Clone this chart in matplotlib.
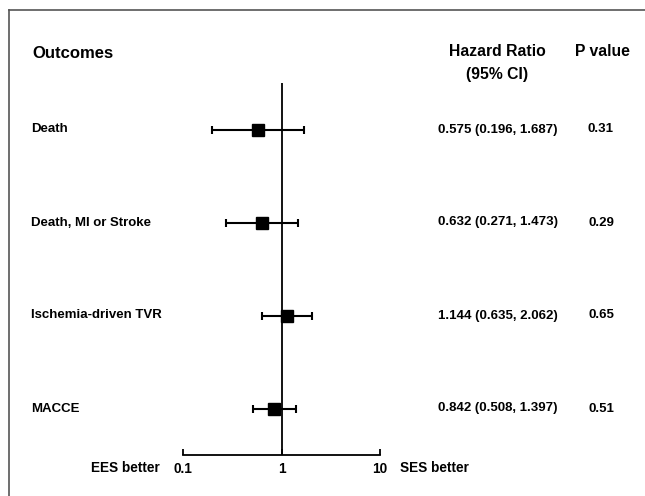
import matplotlib.pyplot as plt
from matplotlib.lines import Line2D
from matplotlib.transforms import blended_transform_factory

plt.rcParams["font.family"] = ["Liberation Sans", "DejaVu Sans"]
plt.rcParams["font.weight"] = "bold"

outcomes = ["Death", "Death, MI or Stroke", "Ischemia-driven TVR", "MACCE"]
hazard_ratio = [0.575, 0.632, 1.144, 0.842]
ci_low = [0.196, 0.271, 0.635, 0.508]
ci_high = [1.687, 1.473, 2.062, 1.397]
p_values = ["0.31", "0.29", "0.65", "0.51"]
xticks = [0.1, 1, 10]
xtick_labels = ["0.1", "1", "10"]

W, H = 645, 496
fig = plt.figure(figsize=(W / 100, H / 100), dpi=100)


def fx(px):
    return px / W


def fy(py):
    return 1 - py / H


# outer frame (only left and top edges are visible in the crop)
frame_color = "#555555"
fig.add_artist(Line2D([fx(9), fx(9)], [fy(10), 0], transform=fig.transFigure,
                      color=frame_color, lw=1.2))
fig.add_artist(Line2D([fx(9), 1], [fy(10), fy(10)], transform=fig.transFigure,
                      color=frame_color, lw=1.2))

ax = fig.add_axes([fx(183), fy(455), fx(380) - fx(183), fy(83) - fy(455)])
ax.set_xscale("log")
ax.set_xlim(0.1, 10)
ax.set_ylim(3.5, -0.5)
ax.patch.set_visible(False)
for side in ["top", "right", "left"]:
    ax.spines[side].set_visible(False)
ax.spines["bottom"].set_linewidth(1.3)
ax.set_yticks([])
ax.set_xticks(xticks)
ax.set_xticklabels(xtick_labels)
ax.xaxis.set_minor_locator(plt.NullLocator())
ax.tick_params(axis="x", direction="in", length=4, width=1.3, pad=5,
               labelsize=9.8)
for lab in ax.get_xticklabels():
    lab.set_fontweight("bold")

ax.axvline(1, color="black", lw=1.3)

ys = list(range(len(outcomes)))
xerr = [[h - lo for h, lo in zip(hazard_ratio, ci_low)],
        [hi - h for h, hi in zip(hazard_ratio, ci_high)]]
ax.errorbar(hazard_ratio, ys, xerr=xerr, fmt="s", color="black",
            markersize=8, elinewidth=1.5, capsize=3, capthick=1.5)

tr = blended_transform_factory(fig.transFigure, ax.transData)
for y, name, hr, lo, hi, p in zip(ys, outcomes, hazard_ratio, ci_low, ci_high, p_values):
    ax.text(fx(31), y, name, transform=tr, ha="left", va="center",
            fontsize=9.5, fontweight="bold")
    ax.text(fx(498), y, f"{hr:.3f} ({lo:.3f}, {hi:.3f})", transform=tr,
            ha="center", va="center", fontsize=9.5, fontweight="bold")
    ax.text(fx(601), y, p, transform=tr, ha="center", va="center",
            fontsize=9.5, fontweight="bold")

fig.text(fx(32), fy(53), "Outcomes", ha="left", va="center",
         fontsize=12, fontweight="bold")
fig.text(fx(497), fy(51), "Hazard Ratio", ha="center", va="center",
         fontsize=11.3, fontweight="bold")
fig.text(fx(497), fy(75), "(95% CI)", ha="center", va="center",
         fontsize=11.3, fontweight="bold")
fig.text(fx(575), fy(51), "P value", ha="left", va="center",
         fontsize=11.3, fontweight="bold")

fig.text(fx(160), fy(468), "EES better", ha="right", va="center",
         fontsize=9.8, fontweight="bold")
fig.text(fx(400), fy(468), "SES better", ha="left", va="center",
         fontsize=9.8, fontweight="bold")

fig.savefig("out.png", dpi=100)
